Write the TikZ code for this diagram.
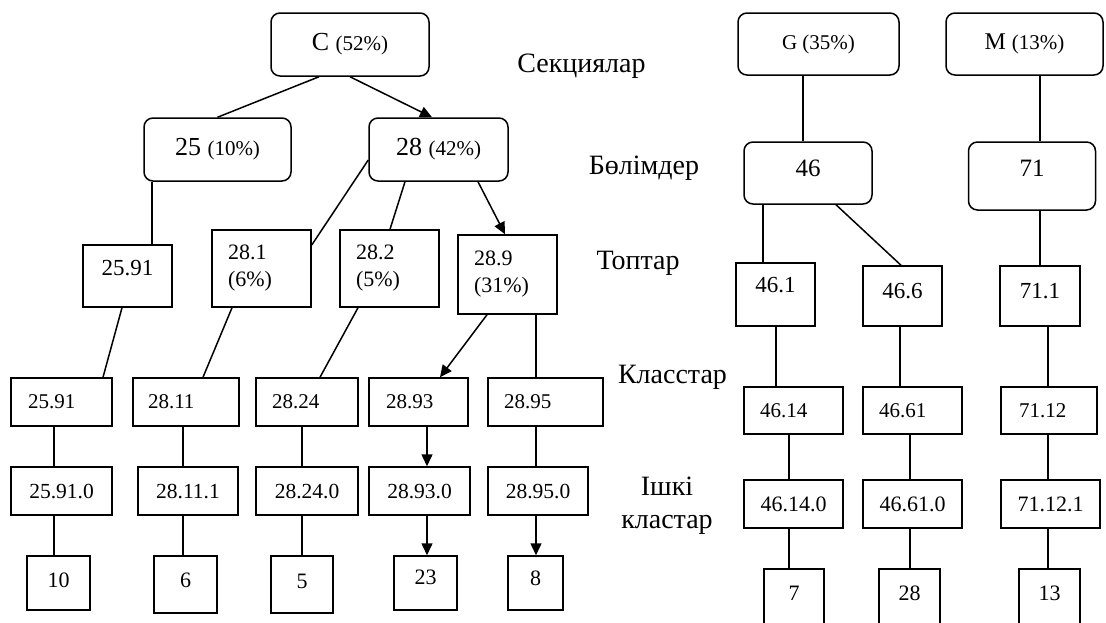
\documentclass[tikz,border=0pt]{standalone}
\usepackage{fontspec}
\setmainfont{Liberation Serif}
\usetikzlibrary{arrows.meta}
\newcommand\fsz[2]{\fontsize{#1}{#2}\selectfont}
\begin{document}
\begin{tikzpicture}[x=1pt,y=-1pt,
  bx/.style={draw, line width=1.5pt, inner sep=0pt, font=\fsz{22}{27}},
  rbx/.style={bx, rounded corners=9pt},
  lft/.style={text width=#1, align=left},
  wh/.style 2 args={minimum width=#1pt, minimum height=#2pt},
  up/.style={text depth=#1pt},
  ln/.style={line width=1.5pt},
  arr/.style={ln, -{Triangle[length=12pt,width=11pt]}},
  lab/.style={font=\fsz{28}{33}, inner sep=0pt, align=center}
]
\useasboundingbox (0,0) rectangle (1106,622);
\clip (0,0) rectangle (1106,622);
\fill[white] (0,0) rectangle (1106,622);

% sections
\node[rbx, wh={158}{63}, font=\fsz{26}{30}] (C) at (350,44.5) {C {\fsz{21}{25}(52\%)}};
\node[rbx, wh={161}{62}, font=\fsz{21}{25}] (G) at (818.5,44) {G (35\%)};
\node[rbx, wh={157}{62}, font=\fsz{24}{28}] (M) at (1024.5,44) {M {\fsz{21}{25}(13\%)}};

% divisions
\node[rbx, wh={147}{63}, font=\fsz{26}{30}] (n25) at (217.5,149.5) {25 {\fsz{21}{25}(10\%)}};
\node[rbx, wh={139}{63}, font=\fsz{26}{30}] (n28) at (438.5,149.5) {28 {\fsz{21}{25}(42\%)}};
\node[rbx, wh={128}{62}, font=\fsz{25}{30}, up=10] (n46) at (808,173) {46};
\node[rbx, wh={127}{68}, font=\fsz{25}{30}, up=16] (n71) at (1032,176) {71};

% groups
\node[bx, wh={89}{62}, font=\fsz{23}{27}, up=16] (g2591) at (127.5,276) {25.91};
\node[bx, wh={99}{77}, lft=67pt] (g281) at (261.5,268.5) {28.1\\(6\%)};
\node[bx, wh={99}{77}, lft=67pt] (g282) at (389.5,268.5) {28.2\\(5\%)};
\node[bx, wh={99}{79}, lft=67pt] (g289) at (507.5,274.5) {28.9\\(31\%)};
\node[bx, wh={79}{63}, font=\fsz{23}{27}, up=19] (g461) at (775.5,294.5) {46.1};
\node[bx, wh={79}{60}, font=\fsz{23}{27}, up=10] (g466) at (902.5,296) {46.6};
\node[bx, wh={80}{60}, font=\fsz{23}{27}, up=10] (g711) at (1040,296) {71.1};

% classes
\node[bx, wh={101}{48}, lft=67pt, font=\fsz{21}{25}] (c2591) at (61.5,402) {25.91};
\node[bx, wh={106}{48}, lft=76pt, font=\fsz{21}{25}] (c2811) at (186,402) {28.11};
\node[bx, wh={102}{48}, lft=70pt, font=\fsz{21}{25}] (c2824) at (307,402) {28.24};
\node[bx, wh={99}{48}, lft=65pt, font=\fsz{21}{25}] (c2893) at (418.5,402) {28.93};
\node[bx, wh={115}{48}, lft=83pt, font=\fsz{21}{25}] (c2895) at (545.5,402) {28.95};
\node[bx, wh={99}{47}, lft=67pt, font=\fsz{21}{25}] (c4614) at (793.5,410.5) {46.14};
\node[bx, wh={99}{47}, lft=67pt, font=\fsz{21}{25}] (c4661) at (912.5,410.5) {46.61};
\node[bx, wh={96}{47}, lft=60pt, font=\fsz{21}{25}] (c7112) at (1049,410.5) {71.12};

% subclasses
\node[bx, wh={101}{48}, font=\fsz{21.5}{25}] (s25910) at (61.5,491) {25.91.0};
\node[bx, wh={100}{48}, font=\fsz{21.5}{25}] (s28111) at (188,491) {28.11.1};
\node[bx, wh={102}{48}, font=\fsz{21.5}{25}] (s28240) at (307,491) {28.24.0};
\node[bx, wh={101}{48}, font=\fsz{21.5}{25}] (s28930) at (419.5,491) {28.93.0};
\node[bx, wh={100}{48}, font=\fsz{21.5}{25}] (s28950) at (538,491) {28.95.0};
\node[bx, wh={99}{48}, font=\fsz{22}{25}] (s46140) at (793.5,504) {46.14.0};
\node[bx, wh={99}{48}, font=\fsz{22}{25}] (s46610) at (912.5,504) {46.61.0};
\node[bx, wh={99}{48}, font=\fsz{22}{25}] (s71121) at (1050.5,504) {71.12.1};

% leaves
\node[bx, wh={63}{54}, up=6] (l10) at (58.5,583) {10};
\node[bx, wh={63}{57}, up=8] (l6) at (185.5,584.5) {6};
\node[bx, wh={62}{57}, up=6] (l5) at (302,584.5) {5};
\node[bx, wh={63}{54}, up=12] (l23) at (425.5,583) {23};
\node[bx, wh={55}{54}, up=10] (l8) at (535.5,583) {8};
\node[bx, wh={60}{71}, up=23] (l7) at (794,604.5) {7};
\node[bx, wh={61}{71}, up=23] (l28) at (909.5,604.5) {28};
\node[bx, wh={61}{71}, up=23] (l13) at (1049.5,604.5) {13};

% level labels
\node[lab] (lsec) at (581.5,66) {Секциялар};
\node[lab] (lbol) at (644,168) {Бөлімдер};
\node[lab] (ltop) at (638,263) {Топтар};
\node[lab] (lkl) at (672.5,377) {Класстар};
\node[lab] (lik) at (667,506) {Ішкі\\кластар};

% connectors, left tree
\draw[ln] ([xshift=-31pt]C.south) -- (n25.north);
\draw[arr] (C.south) -- ([xshift=-6.5pt]n28.north);
\draw[ln] ([xshift=-65.5pt]n25.south) -- ([xshift=24.5pt]g2591.north);
\draw[ln] ([yshift=-10.5pt]n28.west) -- ([yshift=23.5pt]g281.east);
\draw[ln] ([xshift=-33.5pt]n28.south) -- ([xshift=0.5pt]g282.north);
\draw[arr] ([xshift=39.5pt]n28.south) -- ([xshift=-2.5pt]g289.north);
\draw[ln] ([xshift=-5.5pt]g2591.south) -- ([xshift=41.5pt]c2591.north);
\draw[ln] ([xshift=-29.5pt]g281.south) -- ([xshift=17pt]c2811.north);
\draw[ln] ([xshift=-31.5pt]g282.south) -- ([xshift=13pt]c2824.north);
\draw[arr] ([xshift=-20.5pt]g289.south) -- ([xshift=21.5pt]c2893.north);
\draw[ln] ([xshift=28.5pt]g289.south) -- ([xshift=-9.5pt]c2895.north);
\draw[ln] ([xshift=-7.5pt]c2591.south) -- ([xshift=-7.5pt]s25910.north);
\draw[ln] ([xshift=-3pt]c2811.south) -- ([xshift=-5pt]s28111.north);
\draw[ln] ([xshift=-5pt]c2824.south) -- ([xshift=-5pt]s28240.north);
\draw[arr] ([xshift=8.5pt]c2893.south) -- ([xshift=7.5pt]s28930.north);
\draw[ln] ([xshift=-9.5pt]c2895.south) -- ([xshift=-2pt]s28950.north);
\draw[ln] ([xshift=-7.5pt]s25910.south) -- ([xshift=-4.5pt]l10.north);
\draw[ln] ([xshift=-5pt]s28111.south) -- ([xshift=-2.5pt]l6.north);
\draw[ln] ([xshift=-5pt]s28240.south) -- (l5.north);
\draw[arr] ([xshift=7.5pt]s28930.south) -- ([xshift=1.5pt]l23.north);
\draw[arr] ([xshift=-2pt]s28950.south) -- ([xshift=0.5pt]l8.north);

% connectors, right trees
\draw[ln] ([xshift=-15.5pt]G.south) -- ([xshift=-5pt]n46.north);
\draw[ln] ([xshift=15.5pt]M.south) -- ([xshift=8pt]n71.north);
\draw[ln] ([xshift=-45pt]n46.south) -- ([xshift=-12.5pt]g461.north);
\draw[ln] ([xshift=28pt]n46.south) -- ([xshift=-1.5pt]g466.north);
\draw[ln] ([xshift=8pt]n71.south) -- (g711.north);
\draw[ln] ([xshift=0.5pt]g461.south) -- ([xshift=-17.5pt]c4614.north);
\draw[ln] ([xshift=-2.5pt]g466.south) -- ([xshift=-12.5pt]c4661.north);
\draw[ln] ([xshift=8pt]g711.south) -- ([xshift=-1pt]c7112.north);
\draw[ln] ([xshift=-4.5pt]c4614.south) -- ([xshift=-4.5pt]s46140.north);
\draw[ln] ([xshift=-2.5pt]c4661.south) -- ([xshift=-2.5pt]s46610.north);
\draw[ln] ([xshift=-1pt]c7112.south) -- ([xshift=-2.5pt]s71121.north);
\draw[ln] ([xshift=-4.5pt]s46140.south) -- ([xshift=-5pt]l7.north);
\draw[ln] ([xshift=-2.5pt]s46610.south) -- ([xshift=0.5pt]l28.north);
\draw[ln] ([xshift=-2.5pt]s71121.south) -- ([xshift=-1.5pt]l13.north);
\end{tikzpicture}
\end{document}
